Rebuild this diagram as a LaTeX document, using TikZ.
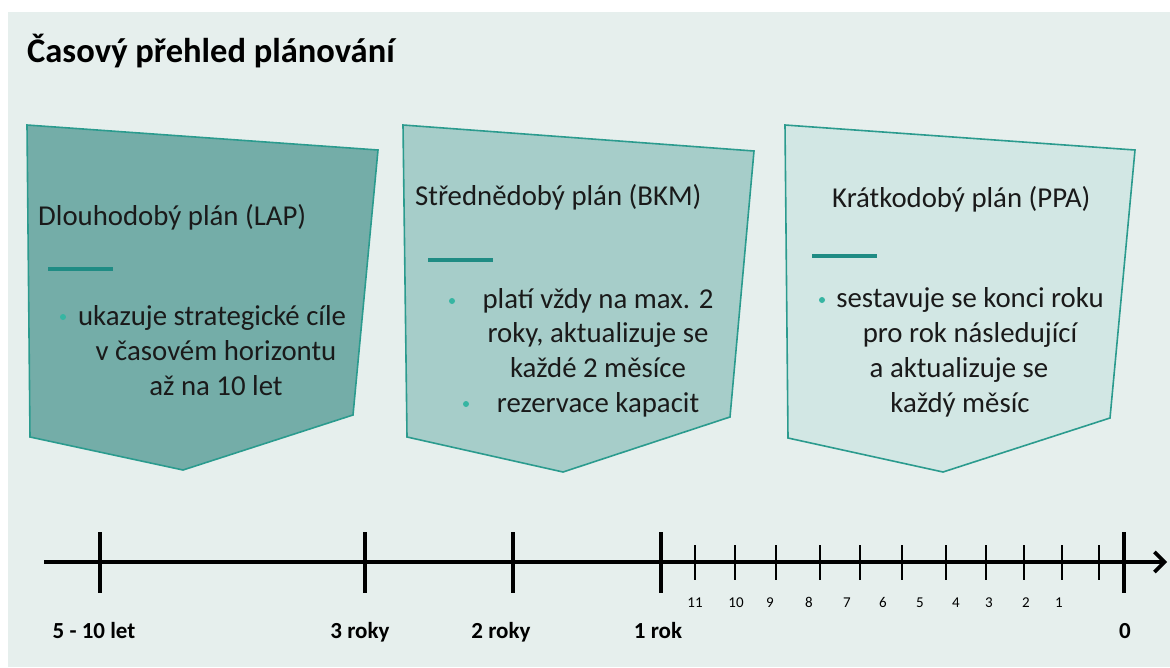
\documentclass[tikz,border=0pt]{standalone}
\usepackage{fontspec}
\setmainfont{Carlito}
\usetikzlibrary{arrows.meta}

\definecolor{pagebg}{HTML}{E6EFED}
\definecolor{planA}{HTML}{74ADA8}
\definecolor{planB}{HTML}{A6CDC9}
\definecolor{planC}{HTML}{D2E7E4}
\definecolor{rim}{HTML}{2B9B8E}
\definecolor{dash}{HTML}{1F8C84}
\definecolor{dot}{HTML}{36B5A2}
\definecolor{ink}{HTML}{1A1A1A}

\tikzset{
  plan/.style={draw=rim, line width=1.6pt, line join=miter},
  head/.style={font=\fontsize{28.8}{33}\selectfont, text=ink, inner sep=0pt, anchor=base west},
  body/.style={font=\fontsize{28.8}{33}\selectfont, text=ink, inner sep=0pt, anchor=base},
  bar/.style={draw=dash, line width=4pt},
  bulletdot/.style={circle, fill=dot, inner sep=0pt, minimum size=6pt},
  axis/.style={line width=3.6pt, draw=black},
  major/.style={line width=3.6pt, draw=black},
  minor/.style={line width=1.8pt, draw=black},
  yearlbl/.style={font=\bfseries\fontsize{23}{27}\selectfont, inner sep=0pt, anchor=base},
  monthlbl/.style={font=\fontsize{15}{17}\selectfont, inner sep=0pt, anchor=base},
}

\begin{document}
\begin{tikzpicture}[x=1pt, y=-1pt]
  % canvas and page tint
  \useasboundingbox (0,0) rectangle (1170,667);
  \fill[white] (0,0) rectangle (1170,667);
  \fill[pagebg] (8,12) rectangle (1170,667);

  % heading
  \node[font=\bfseries\fontsize{34.5}{40}\selectfont, inner sep=0pt, anchor=base west] (title) at (27,62) {Časový přehled plánování};

  % long-term plan
  \path[plan, fill=planA] (27,125) -- (378,150) -- (353,415) -- (183,470) -- (30,437) -- cycle;
  \node[head] (lapT) at (38,225) {Dlouhodobý plán (LAP)};
  \draw[bar] (48,269) -- (113,269);
  \node[bulletdot] (lapD) at (63,317) {};
  \node[body] (lap1) at (212,325) {ukazuje strategické cíle};
  \node[body] (lap2) at (216,360) {v časovém horizontu};
  \node[body] (lap3) at (216,395) {až na 10 let};

  % medium-term plan
  \path[plan, fill=planB] (403,125) -- (754,151) -- (730,417) -- (563,472) -- (407,437) -- cycle;
  \node[head] (bkmT) at (415,205) {Střednědobý plán (BKM)};
  \draw[bar] (428,260) -- (493,260);
  \node[bulletdot] (bkmD1) at (452,301) {};
  \node[body] (bkm1) at (598,308) {platí vždy na max. 2};
  \node[body] (bkm2) at (598,342) {roky, aktualizuje se};
  \node[body] (bkm3) at (598,377) {každé 2 měsíce};
  \node[bulletdot] (bkmD2) at (466,404) {};
  \node[body] (bkm4) at (598,412) {rezervace kapacit};

  % short-term plan
  \path[plan, fill=planC] (785,125) -- (1135,150) -- (1110,418) -- (943,472) -- (788,438) -- cycle;
  \node[head] (ppaT) at (832,207) {Krátkodobý plán (PPA)};
  \draw[bar] (812,256) -- (877,256);
  \node[bulletdot] (ppaD) at (822,300) {};
  \node[body] (ppa1) at (970,307) {sestavuje se konci roku};
  \node[body] (ppa2) at (970,342) {pro rok následující};
  \node[body] (ppa3) at (959,377) {a aktualizuje se};
  \node[body] (ppa4) at (960,412) {každý měsíc};

  % time axis
  \coordinate (axStart) at (44,562);
  \coordinate (axEnd) at (1167,562);
  \draw[axis, -{Straight Barb[length=10pt, width=20pt, line width=3.6pt]}] (axStart) -- (axEnd);

  \foreach \x in {100,365,513,661,1124}
    \draw[major] (\x,532) -- (\x,593);
  \foreach \x in {695,735,776,820,860,902,946,986,1024,1062,1099}
    \draw[minor] (\x,545) -- (\x,580);

  \node[yearlbl] (y510) at (94,638) {5 - 10 let};
  \node[yearlbl] (y3) at (360,638) {3 roky};
  \node[yearlbl] (y2) at (501,638) {2 roky};
  \node[yearlbl] (y1) at (658,638) {1 rok};
  \node[yearlbl] (y0) at (1125,638) {0};

  \foreach \lbl/\x in {11/695,10/736,9/770,8/809,7/847,6/883,5/920,4/956,3/989,2/1026,1/1059}
    \node[monthlbl] (m\lbl) at (\x,607) {\lbl};
\end{tikzpicture}
\end{document}
